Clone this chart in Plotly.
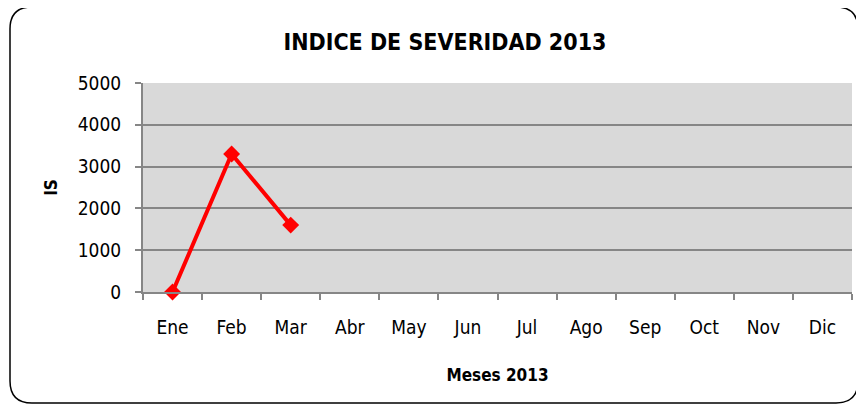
import plotly.graph_objects as go

months = ["Ene", "Feb", "Mar", "Abr", "May", "Jun", "Jul", "Ago", "Sep", "Oct", "Nov", "Dic"]
is_months = ["Ene", "Feb", "Mar"]
is_values = [0, 3300, 1600]
y_ticks = [0, 1000, 2000, 3000, 4000, 5000]

OFF = 8  # page body margin
W, H = 864 - OFF, 406 - OFF
# plot area in screen coordinates
SL, SR, ST, SB = 143, 852, 83, 292
L, T = SL - OFF, ST - OFF
R = W - (SR - OFF)
B = H - (SB - OFF)
pw, ph = W - L - R, H - T - B

def px(x):
    return (x - SL) / pw

def py(y):
    return (SB - y) / ph

def rounded_path(x0, y0, x1, y1, r):
    pts = [
        f"M {px(x0 + r)},{py(y0)}",
        f"L {px(x1 - r)},{py(y0)}",
        f"Q {px(x1)},{py(y0)} {px(x1)},{py(y0 + r)}",
        f"L {px(x1)},{py(y1 - r)}",
        f"Q {px(x1)},{py(y1)} {px(x1 - r)},{py(y1)}",
        f"L {px(x0 + r)},{py(y1)}",
        f"Q {px(x0)},{py(y1)} {px(x0)},{py(y1 - r)}",
        f"L {px(x0)},{py(y0 + r)}",
        f"Q {px(x0)},{py(y0)} {px(x0 + r)},{py(y0)}",
        "Z",
    ]
    return " ".join(pts)

FONT = "DejaVu Sans Condensed, Liberation Sans Narrow, Arial Narrow, sans-serif"

fig = go.Figure()
fig.add_trace(go.Scatter(
    x=is_months, y=is_values, mode="lines+markers",
    line=dict(color="#ff0000", width=4),
    marker=dict(symbol="diamond", size=13, color="#ff0000"),
    showlegend=False, cliponaxis=False,
))

fig.update_layout(
    width=W, height=H,
    margin=dict(l=L, r=R, t=T, b=B, autoexpand=False),
    paper_bgcolor="white",
    plot_bgcolor="#d9d9d9",
    font=dict(family=FONT, color="black", size=19),
    title=dict(text="<b>INDICE DE SEVERIDAD 2013</b>", xref="container", x=(445 - OFF) / W,
               xanchor="center", yref="container", y=1 - (42 - OFF) / H, yanchor="middle",
               font=dict(size=23, family=FONT)),
    xaxis=dict(
        categoryorder="array", categoryarray=months, tickvals=months, range=[-0.5, 11.5],
        showgrid=False, showline=True, linecolor="#868686", linewidth=2,
        ticks="outside", tickson="boundaries", ticklen=6, tickcolor="#868686", tickwidth=2,
        ticklabelstandoff=17,
        tickfont=dict(size=19, family=FONT),
        title=dict(text="<b>Meses 2013</b>", font=dict(size=17, family=FONT), standoff=32),
        zeroline=False,
    ),
    yaxis=dict(
        range=[0, 5000], tickvals=y_ticks, showgrid=True, gridcolor="#868686", gridwidth=1.5,
        showline=True, linecolor="#868686", linewidth=2,
        ticks="outside", ticklen=6, tickcolor="#868686", tickwidth=2,
        ticklabelstandoff=10,
        tickfont=dict(size=19, family=FONT),
        title=dict(text="<b>IS</b>", font=dict(size=17, family=FONT), standoff=16),
        zeroline=False,
    ),
    shapes=[dict(type="path", xref="paper", yref="paper",
                 path=rounded_path(10, 7, 858, 403, 22),
                 line=dict(color="black", width=1.5), layer="below")],
)

fig.write_html("out.html")
